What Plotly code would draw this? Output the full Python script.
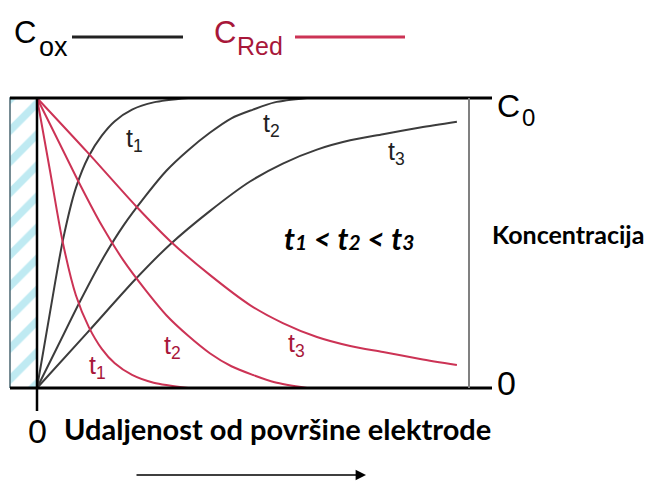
import plotly.graph_objects as go

# udaljenost (0 = površina elektrode, 1 = desni rub) i koncentracija (0..C0 = 1)
ox_t1_x = [0, 0.03, 0.06, 0.09, 0.12, 0.15, 0.18, 0.22, 0.27, 0.35]
ox_t1_y = [0, 0.26, 0.51, 0.69, 0.80, 0.87, 0.92, 0.96, 0.985, 1.0]
ox_t2_x = [0, 0.05, 0.1, 0.15, 0.2, 0.25, 0.3, 0.35, 0.4, 0.45, 0.5, 0.55, 0.625]
ox_t2_y = [0, 0.15, 0.30, 0.44, 0.56, 0.66, 0.75, 0.82, 0.88, 0.93, 0.96, 0.985, 1.0]
ox_t3_x = [0, 0.116, 0.231, 0.308, 0.40, 0.493, 0.569, 0.648, 0.725, 0.801, 0.887, 0.972]
ox_t3_y = [0, 0.19, 0.38, 0.495, 0.61, 0.712, 0.774, 0.822, 0.854, 0.875, 0.898, 0.918]

red_t1_x = [0, 0.03, 0.06, 0.09, 0.12, 0.15, 0.18, 0.22, 0.27, 0.35]
red_t1_y = [1.0, 0.75, 0.50, 0.32, 0.21, 0.135, 0.085, 0.045, 0.018, 0.0]
red_t2_x = [0, 0.05, 0.1, 0.15, 0.2, 0.25, 0.3, 0.35, 0.4, 0.45, 0.5, 0.55, 0.625]
red_t2_y = [1.0, 0.85, 0.70, 0.56, 0.44, 0.34, 0.25, 0.18, 0.12, 0.075, 0.045, 0.02, 0.0]
red_t3_x = [0, 0.116, 0.231, 0.308, 0.40, 0.493, 0.569, 0.648, 0.725, 0.801, 0.887, 0.972]
red_t3_y = [1.0, 0.814, 0.624, 0.507, 0.39, 0.286, 0.224, 0.176, 0.145, 0.124, 0.100, 0.079]

OX = '#3c3c3c'
RED = '#cc3355'
RED_TXT = '#a8173a'
ARIAL = 'Liberation Sans, Arial, sans-serif'
BOLD = 'Lato, Open Sans, sans-serif'

OFF = 8                      # bijela margina stranice
W, H = 662 - OFF, 481 - OFF
x0, x1, y0, y1 = 37, 469, 388, 98   # piksel rubovi okvira (referenca)


def X(px):
    return (px - x0) / (x1 - x0)


def Y(py):
    return (y0 - py) / (y0 - y1)


fig = go.Figure()

# elektroda (šrafirano)
fig.add_trace(go.Scatter(
    x=[X(10), X(37), X(37), X(10), X(10)], y=[0, 0, 1, 1, 0],
    mode='lines', fill='toself', line=dict(color='#4a6670', width=1.5),
    fillcolor='white',
    fillpattern=dict(shape='/', fgcolor='#7fd6e6', bgcolor='white', size=22, solidity=0.35),
    hoverinfo='skip'))

for xs, ys in [(ox_t1_x, ox_t1_y), (ox_t2_x, ox_t2_y), (ox_t3_x, ox_t3_y)]:
    fig.add_trace(go.Scatter(x=xs, y=ys, mode='lines',
                             line=dict(color=OX, width=2, shape='spline', smoothing=0.8)))
for xs, ys in [(red_t1_x, red_t1_y), (red_t2_x, red_t2_y), (red_t3_x, red_t3_y)]:
    fig.add_trace(go.Scatter(x=xs, y=ys, mode='lines',
                             line=dict(color=RED, width=2, shape='spline', smoothing=0.8)))

shapes = [
    dict(type='line', x0=X(10), x1=X(492), y0=1, y1=1, line=dict(color='black', width=3)),
    dict(type='line', x0=X(10), x1=X(492), y0=0, y1=0, line=dict(color='black', width=3)),
    dict(type='line', x0=0, x1=0, y0=Y(411), y1=1, line=dict(color='black', width=2.5)),
    dict(type='line', x0=1, x1=1, y0=0, y1=1, line=dict(color='#808080', width=2)),
    # legenda
    dict(type='line', x0=X(72), x1=X(183), y0=Y(37), y1=Y(37), line=dict(color='#222222', width=3)),
    dict(type='line', x0=X(295), x1=X(405), y0=Y(37), y1=Y(37), line=dict(color=RED, width=3)),
]
fig.update_layout(shapes=shapes)


def txt(px, py, text, size, color='black', family=ARIAL, xanchor='center'):
    fig.add_annotation(x=X(px), y=Y(py), text=text, showarrow=False,
                       font=dict(size=size, color=color, family=family),
                       xanchor=xanchor, yanchor='middle')


# legenda
txt(25, 32, 'C', 31)
txt(53, 47, 'ox', 27)
txt(225, 32, 'C', 31, RED_TXT)
txt(260, 46, 'Red', 25, RED_TXT)

# oznake krivulja
txt(134, 140, 't<sub>1</sub>', 25, '#222222')
txt(271, 125, 't<sub>2</sub>', 25, '#222222')
txt(396, 153, 't<sub>3</sub>', 25, '#222222')
txt(97, 367, 't<sub>1</sub>', 25, RED_TXT)
txt(172, 347, 't<sub>2</sub>', 25, RED_TXT)
txt(296, 345, 't<sub>3</sub>', 25, RED_TXT)

# tekstovi
txt(349, 238, '<b><i>t<span style="font-size:21px">1</span> &lt; t<span style="font-size:21px">2</span>'
              ' &lt; t<span style="font-size:21px">3</span></i></b>', 30, family=BOLD)
txt(490, 234, '<b>Koncentracija</b>', 25, family=BOLD, xanchor='left')
txt(277, 428, '<b>Udaljenost od površine elektrode</b>', 29, family=BOLD)
txt(37, 431, '0', 34)
txt(508, 106, 'C', 32)
txt(528, 117, '0', 24)
txt(506, 383, '0', 34)

# strelica
fig.add_annotation(x=X(366), y=Y(475), ax=X(135), ay=Y(475), xref='x', yref='y',
                   axref='x', ayref='y', text='', showarrow=True,
                   arrowhead=2, arrowsize=1.3, arrowwidth=1.6, arrowcolor='black')

fig.update_layout(
    width=W, height=H, margin=dict(l=0, r=0, t=0, b=0),
    paper_bgcolor='white', plot_bgcolor='white', showlegend=False,
    xaxis=dict(range=[X(OFF), X(662)], visible=False, fixedrange=True),
    yaxis=dict(range=[Y(481), Y(OFF)], visible=False, fixedrange=True),
)

fig.write_html("out.html")
